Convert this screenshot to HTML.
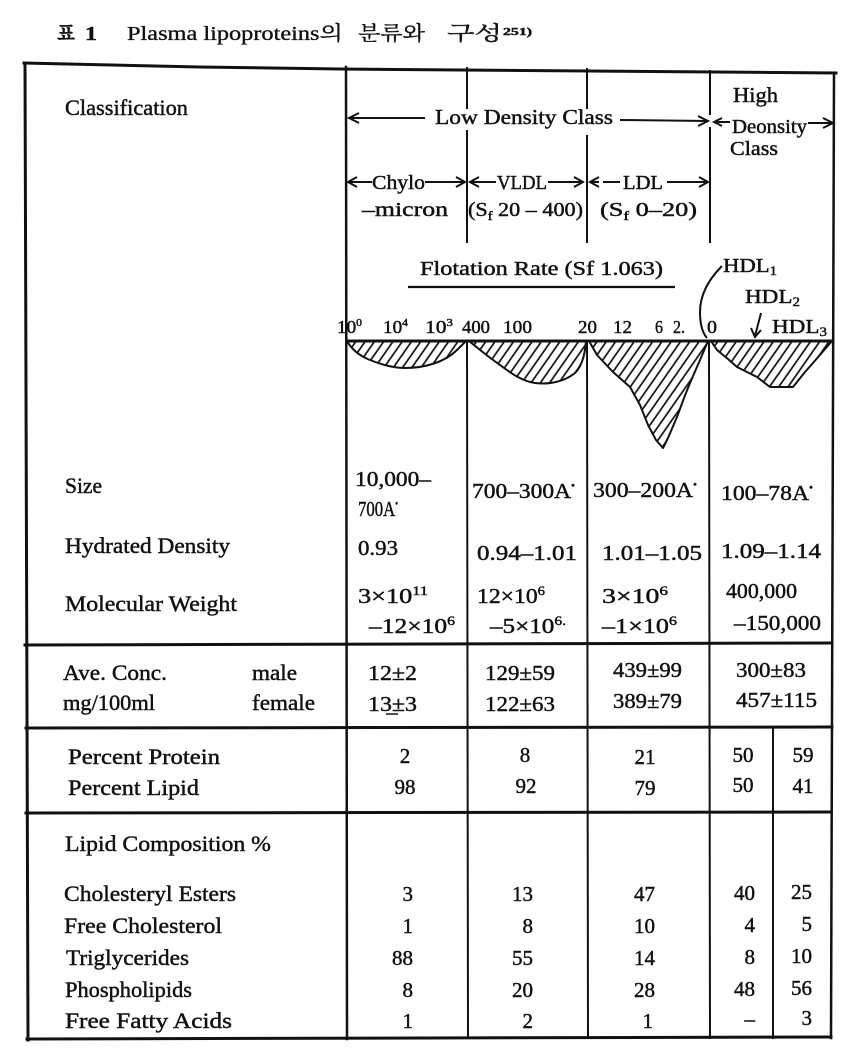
<!DOCTYPE html>
<html>
<head>
<meta charset="utf-8">
<style>
html,body{margin:0;padding:0;background:#fff;}
svg{display:block;}
text{font-family:"Liberation Serif","Noto Serif CJK SC","NanumGothic",serif;fill:#111;stroke:#111;stroke-width:0.45;}
.k{font-family:"Liberation Serif","Noto Serif CJK KR","Noto Serif CJK SC","NanumGothic",serif;stroke-width:0.35;}
</style>
</head>
<body>
<svg width="850" height="1052" viewBox="0 0 850 1052" xmlns="http://www.w3.org/2000/svg">
<defs>
<pattern id="h" patternUnits="userSpaceOnUse" width="7.6" height="20" patternTransform="rotate(35)">
<line x1="1" y1="0" x2="1" y2="20" stroke="#111" stroke-width="1.7"/>
</pattern>
</defs>

<!-- Title -->
<text x="57" y="40" font-size="20" font-weight="bold" class="k" textLength="18" lengthAdjust="spacingAndGlyphs">표</text>
<text x="85" y="40" font-size="20" font-weight="bold" textLength="12" lengthAdjust="spacingAndGlyphs">1</text>
<text x="127" y="40" font-size="20" class="k" textLength="216" lengthAdjust="spacingAndGlyphs">Plasma lipoproteins의</text>
<text x="358" y="40" font-size="20" class="k" textLength="67" lengthAdjust="spacingAndGlyphs">분류와</text>
<text x="447" y="40" font-size="20" class="k" textLength="55" lengthAdjust="spacingAndGlyphs">구성</text>
<text x="503" y="35" font-size="11" font-weight="bold" textLength="29" lengthAdjust="spacingAndGlyphs">251)</text>

<!-- Table borders -->
<g stroke="#111" fill="none" stroke-linecap="square">
<polyline points="24,63 200,67 340,69 836,73" stroke-width="3"/>
<line x1="25" y1="63" x2="28" y2="1040" stroke-width="3"/>
<line x1="834" y1="73" x2="831" y2="1038" stroke-width="2.5"/>
<line x1="27" y1="1039" x2="831" y2="1037" stroke-width="3"/>
<line x1="25" y1="645" x2="832" y2="643" stroke-width="3"/>
<line x1="26" y1="728" x2="832" y2="727" stroke-width="3"/>
<line x1="26" y1="813" x2="831" y2="812" stroke-width="3"/>
<line x1="347" y1="341" x2="833" y2="341" stroke-width="3"/>
<line x1="346" y1="67" x2="347" y2="1039" stroke-width="2.5"/>
<line x1="467" y1="68" x2="467" y2="108" stroke-width="2"/>
<line x1="467" y1="131" x2="467" y2="242" stroke-width="2"/>
<line x1="467" y1="341" x2="468" y2="1038" stroke-width="2"/>
<line x1="587" y1="69" x2="587" y2="108" stroke-width="2"/>
<line x1="587" y1="136" x2="587" y2="242" stroke-width="2"/>
<line x1="587" y1="341" x2="588" y2="1038" stroke-width="2"/>
<line x1="710" y1="71" x2="710" y2="114" stroke-width="2"/>
<line x1="710" y1="128" x2="710" y2="242" stroke-width="2"/>
<line x1="709" y1="341" x2="710" y2="1038" stroke-width="2"/>
<line x1="773" y1="728" x2="773" y2="1038" stroke-width="2"/>
</g>

<!-- Arrows -->
<g stroke="#111" fill="none" stroke-width="2">
<line x1="349" y1="118" x2="425" y2="118"/><path d="M359 113 L349 118 L359 123"/>
<line x1="620" y1="120" x2="708" y2="121"/><path d="M698 116 L708 121 L698 126"/>
<line x1="714" y1="122" x2="730" y2="122"/><path d="M722 118 L714 122 L722 126"/>
<line x1="808" y1="123" x2="833" y2="123"/><path d="M823 118 L833 123 L823 128"/>
<line x1="348" y1="182" x2="372" y2="182"/><path d="M357 177 L348 182 L357 187"/>
<line x1="425" y1="182" x2="465" y2="182"/><path d="M456 177 L465 182 L456 187"/>
<line x1="470" y1="182" x2="496" y2="182"/><path d="M479 177 L470 182 L479 187"/>
<line x1="548" y1="182" x2="583" y2="182"/><path d="M574 177 L583 182 L574 187"/>
<line x1="590" y1="182" x2="599" y2="182"/><line x1="603" y1="182" x2="620" y2="182"/><path d="M599 177 L590 182 L599 187"/>
<line x1="667" y1="182" x2="708" y2="182"/><path d="M699 177 L708 182 L699 187"/>
<line x1="408" y1="287" x2="675" y2="287" stroke-width="2.2"/>
<path d="M722 266 Q700 288 700 312 Q700 330 707 338"/>
<line x1="761" y1="313" x2="755" y2="336"/><path d="M751 328 L755 337 L761 330"/>
</g>

<!-- Waves -->
<g stroke="#111" stroke-width="2" fill="url(#h)" stroke-linejoin="round">
<path d="M347,341 C352,350 360,356 370,360 C385,366 395,368 405,368 C425,368 445,362 457,350 L466,341 Z"/>
<path d="M469,341 C480,350 490,358 500,365 C512,374 522,381 535,383 C550,385 565,381 575,373 C582,366 585,355 586,341 Z"/>
<path d="M589,341 L597,355 L613,372 L630,387 L640,405 L648,425 L656,440 L663,448 L668,438 L677,417 L684,398 L690,383 L700,360 L708,341 Z"/>
<path d="M711,341 L717,350 L728,359 L737,367 L757,377 L770,387 L793,387 L805,372 L813,363 L832,341 Z"/>
</g>

<!-- Header text -->
<text x="65" y="115" font-size="22" textLength="123" lengthAdjust="spacingAndGlyphs">Classification</text>
<text x="733" y="102" font-size="21" textLength="45" lengthAdjust="spacingAndGlyphs">High</text>
<text x="435" y="124" font-size="21" textLength="178" lengthAdjust="spacingAndGlyphs">Low Density Class</text>
<text x="732" y="133" font-size="20" textLength="75" lengthAdjust="spacingAndGlyphs">Deonsity</text>
<text x="730" y="155" font-size="20" textLength="48" lengthAdjust="spacingAndGlyphs">Class</text>
<text x="372" y="189" font-size="20" textLength="53" lengthAdjust="spacingAndGlyphs">Chylo</text>
<text x="362" y="216" font-size="20" textLength="86" lengthAdjust="spacingAndGlyphs">–micron</text>
<text x="497" y="189" font-size="20" textLength="50" lengthAdjust="spacingAndGlyphs">VLDL</text>
<text x="468" y="216" font-size="20" textLength="115" lengthAdjust="spacingAndGlyphs">(S<tspan font-size="13" dy="4">f</tspan><tspan dy="-4"> 20 – 400)</tspan></text>
<text x="623" y="189" font-size="20" textLength="40" lengthAdjust="spacingAndGlyphs">LDL</text>
<text x="600" y="216" font-size="20" textLength="97" lengthAdjust="spacingAndGlyphs">(S<tspan font-size="13" dy="4">f</tspan><tspan dy="-4"> 0–20)</tspan></text>
<text x="420" y="275" font-size="20" textLength="243" lengthAdjust="spacingAndGlyphs">Flotation Rate (Sf 1.063)</text>
<text x="723" y="272" font-size="20" textLength="54" lengthAdjust="spacingAndGlyphs">HDL<tspan font-size="13" dy="3">1</tspan></text>
<text x="745" y="303" font-size="20" textLength="55" lengthAdjust="spacingAndGlyphs">HDL<tspan font-size="13" dy="3">2</tspan></text>
<text x="772" y="333" font-size="20" textLength="55" lengthAdjust="spacingAndGlyphs">HDL<tspan font-size="13" dy="3">3</tspan></text>

<g font-size="18">
<text x="337" y="333" textLength="25" lengthAdjust="spacingAndGlyphs">10<tspan font-size="11" dy="-7">0</tspan></text>
<text x="383" y="333" textLength="25" lengthAdjust="spacingAndGlyphs">10<tspan font-size="11" dy="-7">4</tspan></text>
<text x="425" y="333" textLength="28" lengthAdjust="spacingAndGlyphs">10<tspan font-size="11" dy="-7">3</tspan></text>
<text x="462" y="333" textLength="28" lengthAdjust="spacingAndGlyphs">400</text>
<text x="503" y="333" textLength="29" lengthAdjust="spacingAndGlyphs">100</text>
<text x="578" y="333" textLength="19" lengthAdjust="spacingAndGlyphs">20</text>
<text x="613" y="333" textLength="19" lengthAdjust="spacingAndGlyphs">12</text>
<text x="655" y="333" textLength="8" lengthAdjust="spacingAndGlyphs">6</text>
<text x="673" y="333" textLength="12" lengthAdjust="spacingAndGlyphs">2.</text>
<text x="707" y="333" textLength="10" lengthAdjust="spacingAndGlyphs">0</text>
</g>

<!-- Size / density / MW -->
<text x="65" y="493" font-size="22" textLength="37" lengthAdjust="spacingAndGlyphs">Size</text>
<text x="355" y="486" font-size="21" textLength="76" lengthAdjust="spacingAndGlyphs">10,000–</text>
<text x="358" y="516" font-size="21" textLength="40" lengthAdjust="spacingAndGlyphs">700A<tspan font-size="10" dy="-9">•</tspan></text>
<text x="472" y="498" font-size="21" textLength="103" lengthAdjust="spacingAndGlyphs">700–300A<tspan font-size="10" dy="-9">•</tspan></text>
<text x="593" y="497" font-size="21" textLength="104" lengthAdjust="spacingAndGlyphs">300–200A<tspan font-size="10" dy="-9">•</tspan></text>
<text x="721" y="500" font-size="21" textLength="92" lengthAdjust="spacingAndGlyphs">100–78A<tspan font-size="10" dy="-9">•</tspan></text>

<text x="65" y="553" font-size="22" textLength="165" lengthAdjust="spacingAndGlyphs">Hydrated Density</text>
<text x="358" y="555" font-size="21" textLength="40" lengthAdjust="spacingAndGlyphs">0.93</text>
<text x="477" y="560" font-size="21" textLength="100" lengthAdjust="spacingAndGlyphs">0.94–1.01</text>
<text x="602" y="560" font-size="21" textLength="100" lengthAdjust="spacingAndGlyphs">1.01–1.05</text>
<text x="721" y="558" font-size="21" textLength="100" lengthAdjust="spacingAndGlyphs">1.09–1.14</text>

<text x="65" y="611" font-size="22" textLength="172" lengthAdjust="spacingAndGlyphs">Molecular Weight</text>
<text x="358" y="603" font-size="21" textLength="70" lengthAdjust="spacingAndGlyphs">3×10<tspan font-size="13" dy="-8">11</tspan></text>
<text x="369" y="633" font-size="21" textLength="86" lengthAdjust="spacingAndGlyphs">–12×10<tspan font-size="13" dy="-8">6</tspan></text>
<text x="477" y="603" font-size="21" textLength="68" lengthAdjust="spacingAndGlyphs">12×10<tspan font-size="13" dy="-8">6</tspan></text>
<text x="490" y="633" font-size="21" textLength="76" lengthAdjust="spacingAndGlyphs">–5×10<tspan font-size="13" dy="-8">6.</tspan></text>
<text x="602" y="603" font-size="21" textLength="66" lengthAdjust="spacingAndGlyphs">3×10<tspan font-size="13" dy="-8">6</tspan></text>
<text x="602" y="633" font-size="21" textLength="75" lengthAdjust="spacingAndGlyphs">–1×10<tspan font-size="13" dy="-8">6</tspan></text>
<text x="726" y="598" font-size="21" textLength="71" lengthAdjust="spacingAndGlyphs">400,000</text>
<text x="734" y="630" font-size="21" textLength="87" lengthAdjust="spacingAndGlyphs">–150,000</text>

<!-- Ave conc -->
<text x="63" y="680" font-size="22" textLength="104" lengthAdjust="spacingAndGlyphs">Ave. Conc.</text>
<text x="252" y="680" font-size="22" textLength="45" lengthAdjust="spacingAndGlyphs">male</text>
<text x="63" y="710" font-size="22" textLength="92" lengthAdjust="spacingAndGlyphs">mg/100ml</text>
<text x="252" y="710" font-size="22" textLength="63" lengthAdjust="spacingAndGlyphs">female</text>
<text x="368" y="680" font-size="21" textLength="49" lengthAdjust="spacingAndGlyphs">12±2</text>
<text x="368" y="711" font-size="21" textLength="49" lengthAdjust="spacingAndGlyphs">13±3</text>
<line x1="386" y1="714" x2="398" y2="714" stroke="#111" stroke-width="1.5"/>
<text x="485" y="680" font-size="21" textLength="70" lengthAdjust="spacingAndGlyphs">129±59</text>
<text x="485" y="711" font-size="21" textLength="70" lengthAdjust="spacingAndGlyphs">122±63</text>
<text x="613" y="677" font-size="21" textLength="69" lengthAdjust="spacingAndGlyphs">439±99</text>
<text x="613" y="708" font-size="21" textLength="69" lengthAdjust="spacingAndGlyphs">389±79</text>
<text x="736" y="677" font-size="21" textLength="70" lengthAdjust="spacingAndGlyphs">300±83</text>
<text x="736" y="707" font-size="21" textLength="81" lengthAdjust="spacingAndGlyphs">457±115</text>

<!-- Percent -->
<text x="68" y="764" font-size="22" textLength="152" lengthAdjust="spacingAndGlyphs">Percent Protein</text>
<text x="68" y="795" font-size="22" textLength="131" lengthAdjust="spacingAndGlyphs">Percent Lipid</text>
<g font-size="21" text-anchor="middle">
<text x="405" y="763">2</text><text x="405" y="794">98</text>
<text x="525" y="762">8</text><text x="526" y="793">92</text>
<text x="645" y="764">21</text><text x="645" y="795">79</text>
<text x="743" y="762">50</text><text x="743" y="792">50</text>
<text x="803" y="762">59</text><text x="803" y="793">41</text>
</g>

<!-- Lipid composition -->
<text x="65" y="851" font-size="22" textLength="206" lengthAdjust="spacingAndGlyphs">Lipid Composition %</text>
<text x="64" y="901" font-size="22" textLength="172" lengthAdjust="spacingAndGlyphs">Cholesteryl Esters</text>
<text x="64" y="933" font-size="22" textLength="158" lengthAdjust="spacingAndGlyphs">Free Cholesterol</text>
<text x="66" y="965" font-size="22" textLength="123" lengthAdjust="spacingAndGlyphs">Triglycerides</text>
<text x="65" y="997" font-size="22" textLength="127" lengthAdjust="spacingAndGlyphs">Phospholipids</text>
<text x="65" y="1028" font-size="22" textLength="167" lengthAdjust="spacingAndGlyphs">Free Fatty  Acids</text>

<g font-size="21" text-anchor="end">
<text x="413" y="901">3</text><text x="413" y="933">1</text><text x="413" y="965">88</text><text x="413" y="997">8</text><text x="413" y="1028">1</text>
<text x="533" y="901">13</text><text x="533" y="933">8</text><text x="533" y="965">55</text><text x="533" y="997">20</text><text x="533" y="1028">2</text>
<text x="655" y="901">47</text><text x="655" y="933">10</text><text x="655" y="965">14</text><text x="655" y="997">28</text><text x="653" y="1028">1</text>
<text x="755" y="900">40</text><text x="755" y="932">4</text><text x="755" y="964">8</text><text x="755" y="996">48</text><text x="755" y="1026">–</text>
<text x="812" y="899">25</text><text x="812" y="931">5</text><text x="812" y="963">10</text><text x="812" y="995">56</text><text x="812" y="1025">3</text>
</g>
</svg>
</body>
</html>
